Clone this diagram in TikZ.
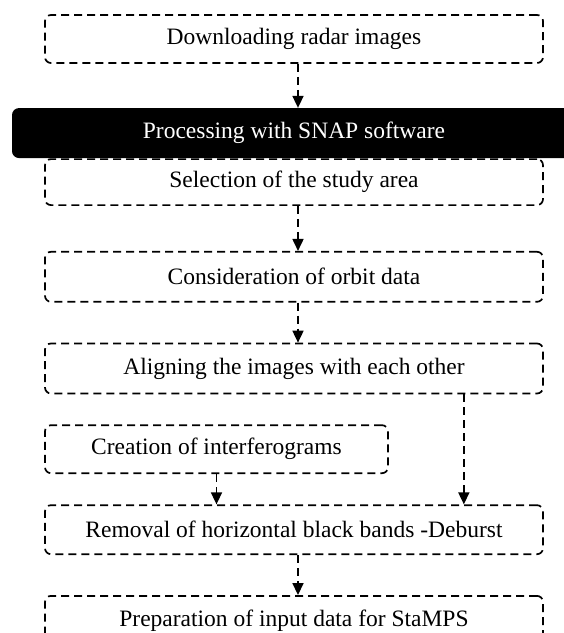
\documentclass[tikz,border=0pt]{standalone}
\usepackage{fontspec}
\setmainfont{Liberation Serif}
\usetikzlibrary{arrows.meta,positioning}
\tikzset{>={Triangle[width=11pt,length=12pt]}, % filled arrow heads
dashline/.style={dash pattern=on 8pt off 5pt}, % the dashes of boxes and arrows
stepbox/.style={draw, dashline, line width=1.7pt, rounded corners=6pt, minimum width=498pt, minimum height=48pt, inner sep=0pt, font=\fontsize{23.5}{28}\selectfont}, % sets the properties for each step
bar/.style={fill=black, text=white, rounded corners=7pt, minimum width=564pt, minimum height=50pt, font=\fontsize{23.5}{28}\selectfont}, % the black heading
arr/.style={->, dashline, line width=1.7pt}, % dashed connectors
}

\begin{document}
\begin{tikzpicture}[node distance=40pt]
\useasboundingbox (0,0) rectangle (564pt,-633pt);
\clip (0,0) rectangle (564pt,-633pt);
\node[stepbox] (dl) at (294pt,-39pt) {Downloading radar images};
\node[bar, below=44pt of dl] (snap) {Processing with SNAP software};
\node[stepbox, minimum height=46pt, below=0pt of snap] (sel) {Selection of the study area};
\node[stepbox, minimum height=50pt, below=45pt of sel] (orbit) {Consideration of orbit data};
\node[stepbox, minimum height=50pt, below=of orbit] (align) {Aligning the images with each other};
\node[stepbox, minimum width=343pt, below=30pt of align.south west, anchor=north west] (interf) {Creation of interferograms};
\node[stepbox, minimum height=49pt, below=110pt of align] (deburst) {Removal of horizontal black bands -Deburst};
\node[stepbox, minimum height=50pt, below=of deburst] (stamps) {Preparation of input data for StaMPS};
\draw[arr] ([xshift=4pt]dl.south) -- ([xshift=4pt]snap.north);
\draw[arr] ([xshift=4pt]sel.south) -- ([xshift=4pt]orbit.north);
\draw[arr] ([xshift=4pt]orbit.south) -- ([xshift=4pt]align.north);
\draw[arr] ([xshift=-80pt]align.south east) -- ([xshift=-80pt]deburst.north east);
\draw[arr] (interf.south) -- (interf.south |- deburst.north);
\draw[arr] ([xshift=4pt]deburst.south) -- ([xshift=4pt]stamps.north);
\end{tikzpicture}
\end{document}
